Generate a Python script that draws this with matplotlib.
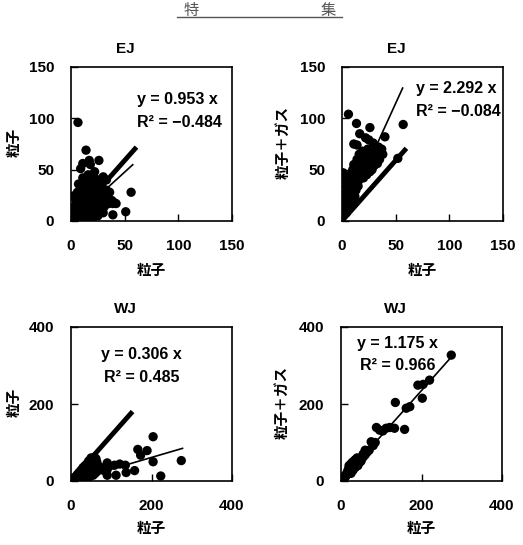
import matplotlib.pyplot as plt
import numpy as np
from matplotlib.lines import Line2D

plt.rcParams['font.family'] = ['Liberation Sans', 'Noto Sans CJK JP', 'DejaVu Sans']
jp = ['Noto Sans CJK JP', 'DejaVu Sans']

# EJ, particle vs particle
ej1_x = [6.5, 14, 17, 26, 11, 9, 18, 22, 56, 51, 39, 39, 2, 1, 30, 33,
         3, 4, 5, 6, 7, 8, 8, 9, 10, 10, 11, 12, 12, 13, 13, 14, 14, 15, 15, 16, 16, 17, 17, 18,
         18, 19, 19, 20, 20, 21, 21, 22, 22, 23, 23, 24, 24, 25, 25, 26, 27, 27, 28, 28, 29, 30,
         31, 32, 33, 34, 35, 36, 38, 40, 42, 3, 5, 8, 10, 14, 20, 25, 30, 6, 11, 16, 20, 12, 7,
         4, 9, 18, 13, 22, 2, 15, 24, 26, 29]
ej1_y = [96, 69, 59, 59, 56, 51, 55, 48, 28, 9, 6, 17, 24, 5, 43, 40,
         10, 15, 20, 8, 12, 18, 25, 30, 35, 14, 22, 8, 28, 38, 18, 25, 33, 12, 40, 20, 28, 35, 5, 15,
         24, 30, 38, 10, 20, 27, 34, 16, 42, 22, 30, 8, 36, 18, 26, 32, 12, 22, 28, 38, 18, 25,
         14, 20, 30, 24, 17, 28, 20, 18, 17, 5, 3, 4, 6, 4, 3, 5, 8, 28, 42, 45, 44, 33, 36,
         25, 21, 9, 2, 6, 8, 30, 40, 15, 33]

# EJ, particle + gas vs particle
ej2_x = [6, 13.5, 26, 57, 16.5, 22, 25, 11, 14, 29, 30, 40, 38, 52, 1, 1, 0.5,
         3, 4, 4, 5, 5, 6, 6, 7, 7, 8, 8, 9, 9, 10, 10, 11, 11, 12, 12, 13, 14, 14, 15, 15, 16, 16,
         17, 17, 18, 18, 19, 19, 20, 20, 21, 21, 22, 22, 23, 23, 24, 24, 25, 26, 26, 27, 28, 28,
         29, 30, 31, 32, 33, 34, 35, 36, 37, 3, 2, 4, 6, 8, 10, 12, 5, 2, 7, 9, 13, 15, 3]
ej2_y = [104, 95, 91, 94, 85, 81, 79, 75, 74, 76, 73, 82, 65, 61, 47, 42, 14,
         18, 22, 28, 15, 32, 25, 35, 20, 40, 28, 45, 24, 33, 38, 50, 30, 55, 42, 35, 48, 38, 60, 44,
         52, 40, 65, 48, 55, 45, 58, 50, 68, 42, 53, 60, 48, 55, 65, 50, 45, 58, 70, 52, 62, 48, 56,
         66, 50, 58, 54, 62, 68, 56, 72, 60, 66, 70, 10, 12, 8, 12, 16, 20, 24, 38, 26, 30, 18, 30,
         34, 35]

# WJ, particle vs particle
wj1_x = [204, 166, 189, 173, 204, 274, 90, 108, 121, 135, 90, 90, 112, 137, 158, 223,
         2, 4, 6, 8, 10, 12, 14, 16, 18, 20, 22, 24, 26, 28, 30, 32, 34, 36, 38, 40, 42, 44, 46,
         48, 50, 52, 54, 56, 58, 60, 62, 64, 66, 40, 44, 48, 50, 52, 55, 58, 62, 35, 30, 25, 20,
         15, 10, 5, 45, 70, 65, 60, 75, 80, 55, 45, 35, 25, 15, 8]
wj1_y = [115, 82, 79, 67, 50, 53, 47, 41, 44, 41, 30, 15, 15, 22, 27, 13,
         1, 3, 2, 5, 4, 8, 6, 10, 7, 12, 9, 14, 11, 16, 13, 18, 15, 22, 18, 25, 20, 28, 24,
         32, 28, 36, 30, 40, 34, 44, 38, 50, 42, 45, 52, 55, 60, 48, 55, 62, 58, 40, 35, 28, 22,
         16, 10, 6, 40, 30, 25, 20, 35, 28, 15, 10, 8, 5, 3, 1]

# WJ, particle + gas vs particle
wj2_x = [274, 191, 204, 220, 202, 135, 162, 171, 88, 96, 112, 121, 133, 158, 104, 75, 60, 55,
         2, 5, 8, 10, 12, 15, 18, 20, 22, 25, 28, 30, 32, 35, 38, 40, 42, 45, 48, 50, 20, 25, 30,
         35, 40, 28, 22, 18, 15, 45, 50, 55, 38, 30, 25, 35, 42, 48, 60, 65, 70, 80, 85]
wj2_y = [327, 249, 251, 262, 215, 204, 189, 193, 139, 132, 137, 139, 137, 134, 130, 102, 80, 70,
         3, 6, 10, 14, 12, 18, 22, 25, 20, 30, 35, 32, 40, 42, 48, 45, 52, 55, 58, 60, 40, 45, 50,
         55, 60, 48, 38, 30, 22, 48, 52, 62, 38, 28, 20, 35, 40, 50, 68, 75, 80, 92, 100]

panels_x = [ej1_x, ej2_x, wj1_x, wj2_x]
panels_y = [ej1_y, ej2_y, wj1_y, wj2_y]
titles = ['EJ', 'EJ', 'WJ', 'WJ']
xlabels = ['粒子', '粒子', '粒子', '粒子']
ylabels = ['粒子', '粒子＋ガス', '粒子', '粒子＋ガス']
fit_slopes = [0.953, 2.292, 0.306, 1.175]
fit_r2 = ['−0.484', '−0.084', '0.485', '0.966']
fit_xmax = [57.5, 56.5, 277, 275]
ref_slope = 1.18
ref_xmax = [61, 60, 153, 0]
axis_max = [150, 150, 400, 400]
tick_sets = [[0, 50, 100, 150], [0, 50, 100, 150], [0, 200, 400], [0, 200, 400]]

fig = plt.figure(figsize=(5.23, 5.45), dpi=100)

# header
fig.text(191 / 523, 1 - 10 / 545, '特', family=jp, fontsize=11, color='#555555', ha='center', va='center')
fig.text(328 / 523, 1 - 10 / 545, '集', family=jp, fontsize=11, color='#555555', ha='center', va='center')
fig.add_artist(Line2D([177 / 523, 342 / 523], [1 - 17 / 545, 1 - 17 / 545], color='#555555', lw=1.0))

lefts = [71 / 523, 342 / 523, 71 / 523, 341 / 523]
bottoms = [(545 - 221) / 545, (545 - 221) / 545, (545 - 481) / 545, (545 - 481) / 545]
eq_pos = [(0.41, 0.79, 0.64, 'left'), (0.46, 0.86, 0.71, 'left'),
          (0.44, 0.82, 0.67, 'center'), (0.35, 0.894, 0.747, 'center')]

for i in range(4):
    ax = fig.add_axes([lefts[i], bottoms[i], 161 / 523, 154 / 545])
    m = axis_max[i]
    ax.scatter(panels_x[i], panels_y[i], s=45, color='black', edgecolors='none', zorder=3)
    fx = np.array([0, fit_xmax[i]])
    ax.plot(fx, fit_slopes[i] * fx, color='black', lw=1.2, zorder=4)
    if ref_xmax[i] > 0:
        rx = np.array([0, ref_xmax[i]])
        ax.plot(rx, ref_slope * rx, color='black', lw=3.5, zorder=4, solid_capstyle='butt')
    ax.set_xlim(0, m)
    ax.set_ylim(0, m)
    ax.set_xticks(tick_sets[i])
    ax.set_yticks(tick_sets[i])
    ax.tick_params(axis='both', direction='in', length=5, width=1.0, labelsize=11)
    ax.tick_params(axis='x', pad=13)
    ax.tick_params(axis='y', pad=12)
    for lab in ax.get_xticklabels() + ax.get_yticklabels():
        lab.set_fontweight('bold')
    for sp in ax.spines.values():
        sp.set_linewidth(1.2)
    ax.text(0.34, 1.115, titles[i], transform=ax.transAxes, ha='center', va='center',
            fontsize=11, fontweight='bold')
    xl = -0.318 if i < 2 else -0.305
    ax.text(0.5, xl, xlabels[i], transform=ax.transAxes, ha='center', va='center',
            family=jp, fontsize=10.5, fontweight='bold')
    yx = -0.354 if i % 2 == 0 else -0.366
    ax.text(yx, 0.51, ylabels[i], transform=ax.transAxes, ha='center', va='center',
            rotation=90, family=jp, fontsize=10.5, fontweight='bold')
    ex, ey1, ey2, ha = eq_pos[i]
    ax.text(ex, ey1, 'y = %.3f x' % fit_slopes[i], transform=ax.transAxes, ha=ha, va='center',
            fontsize=11.5, fontweight='bold')
    ax.text(ex, ey2, 'R² = ' + fit_r2[i], transform=ax.transAxes, ha=ha, va='center',
            fontsize=11.5, fontweight='bold')

fig.savefig('out.png', dpi=100)
